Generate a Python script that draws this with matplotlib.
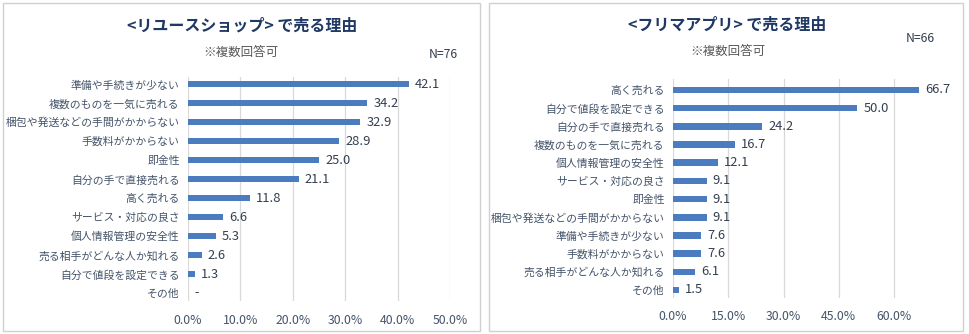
import matplotlib
matplotlib.use("Agg")
import matplotlib.pyplot as plt
from matplotlib.patches import Rectangle
from matplotlib.ticker import FuncFormatter

plt.rcParams['font.family'] = ['Noto Sans CJK JP', 'DejaVu Sans']

# data
shop_title = "<リユースショップ> で売る理由"
shop_n = "N=76"
shop_labels = ["準備や手続きが少ない", "複数のものを一気に売れる", "梱包や発送などの手間がかからない",
               "手数料がかからない", "即金性", "自分の手で直接売れる", "高く売れる",
               "サービス・対応の良さ", "個人情報管理の安全性", "売る相手がどんな人か知れる",
               "自分で値段を設定できる", "その他"]
shop_values = [42.1, 34.2, 32.9, 28.9, 25.0, 21.1, 11.8, 6.6, 5.3, 2.6, 1.3, 0.0]
shop_ticks = [0, 10, 20, 30, 40, 50]

app_title = "<フリマアプリ> で売る理由"
app_n = "N=66"
app_labels = ["高く売れる", "自分で値段を設定できる", "自分の手で直接売れる", "複数のものを一気に売れる",
              "個人情報管理の安全性", "サービス・対応の良さ", "即金性", "梱包や発送などの手間がかからない",
              "準備や手続きが少ない", "手数料がかからない", "売る相手がどんな人か知れる", "その他"]
app_values = [66.7, 50.0, 24.2, 16.7, 12.1, 9.1, 9.1, 9.1, 7.6, 7.6, 6.1, 1.5]
app_ticks = [0, 15, 30, 45, 60]

W, H = 970, 334
BAR = '#4A7CBF'
TXT = '#44546A'
TITLE = '#1F3864'

fig = plt.figure(figsize=(W / 100, H / 100), dpi=100)


def px(x0, y0, x1, y1):
    # pixel box (top-left origin) -> figure fraction rect
    return [x0 / W, 1 - y1 / H, (x1 - x0) / W, (y1 - y0) / H]


def panel(box, axbox, ylim, xmax, labels, values, ticks, title, tpos, sub_pos, n, npos):
    fig.patches.append(Rectangle((box[0] / W, 1 - box[3] / H), (box[2] - box[0]) / W,
                                 (box[3] - box[1]) / H, transform=fig.transFigure,
                                 fill=False, edgecolor='#D0D0D0', lw=1.0))
    ax = fig.add_axes(px(*axbox))
    pos = list(range(len(labels)))
    ax.barh(pos, values, height=0.36, color=BAR, zorder=3)
    for p, v in zip(pos, values):
        ax.text(v + xmax * 0.024, p, '-' if v == 0 else f"{v:.1f}", va='center', ha='left',
                fontsize=9.3, color='#333F50', zorder=4)
    ax.set_xlim(0, xmax)
    ax.set_ylim(*ylim)
    ax.set_yticks(pos)
    ax.set_yticklabels(labels, fontsize=7.8, color=TXT)
    ax.set_xticks(ticks)
    ax.xaxis.set_major_formatter(FuncFormatter(lambda v, _: f"{v:.1f}%"))
    ax.tick_params(axis='x', labelsize=8.8, labelcolor=TXT, length=0, pad=9)
    ax.tick_params(axis='y', length=0, pad=6)
    ax.grid(axis='x', color='#D9D9D9', lw=0.9, zorder=0)
    for s in ax.spines.values():
        s.set_visible(False)
    fig.text(tpos[0] / W, 1 - tpos[1] / H, title, ha='center', va='center', fontsize=11.5,
             fontweight='bold', color=TITLE)
    fig.text(sub_pos[0] / W, 1 - sub_pos[1] / H, "※複数回答可", ha='center', va='center',
             fontsize=9, color='#595959')
    fig.text(npos[0] / W, 1 - npos[1] / H, n, ha='right', va='center', fontsize=8.8,
             color='#333F50')
    return ax


panel((3, 3, 480, 331), (188, 77, 450, 301), (11.42, -0.37), 50,
      shop_labels, shop_values, shop_ticks, shop_title, (242, 26), (241, 52), shop_n, (458, 55))
panel((489, 3, 963, 331), (673, 79, 931, 298), (11.44, -0.6), 70,
      app_labels, app_values, app_ticks, app_title, (727, 25), (728, 51), app_n, (935, 39))

fig.savefig("out.png", dpi=100, facecolor='white')
